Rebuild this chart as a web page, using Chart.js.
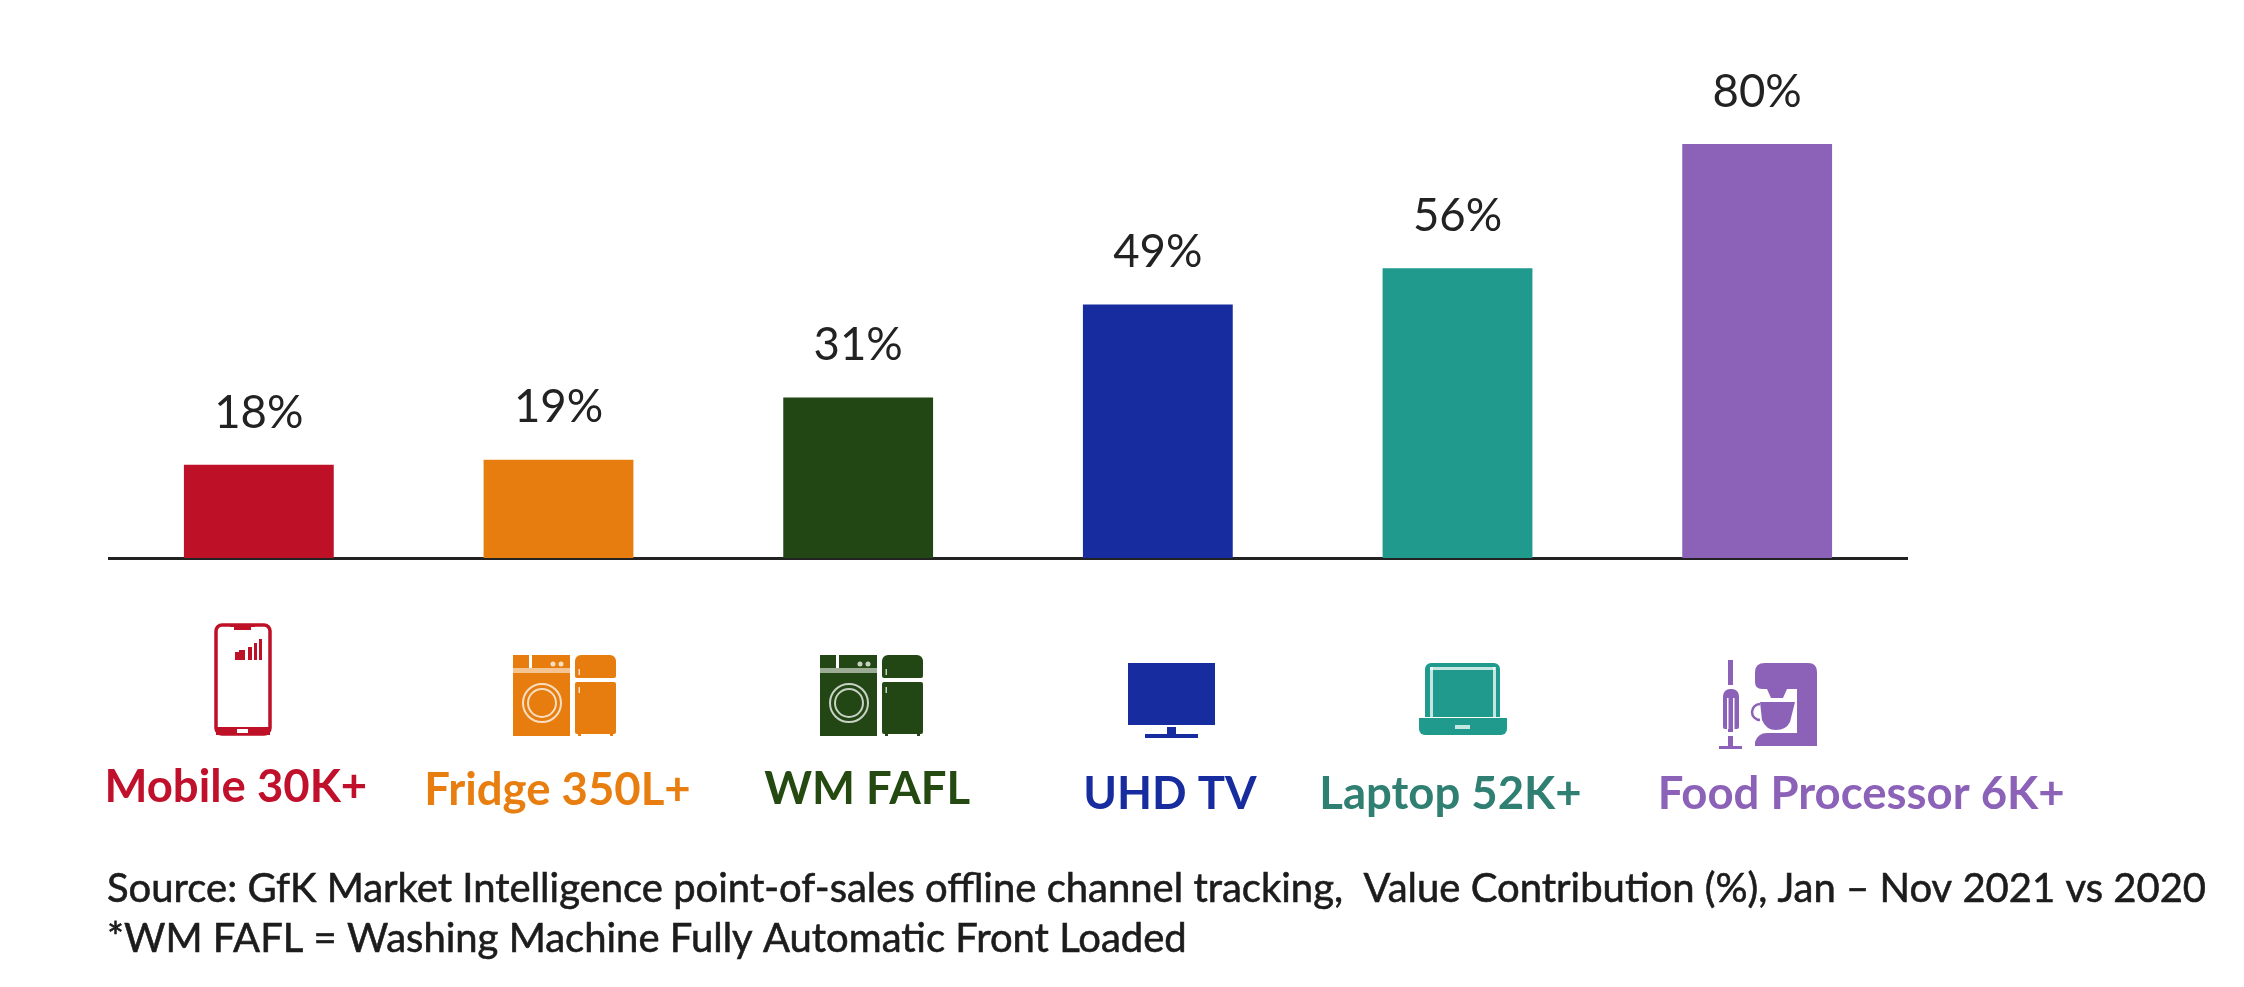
<!DOCTYPE html>
<html>
<head>
<meta charset="utf-8">
<title>Value contribution</title>
<script src="https://cdn.jsdelivr.net/npm/chart.js@4/dist/chart.umd.js"></script>
<style>
  html, body { margin: 0; padding: 0; background: #fff; }
  canvas { display: block; }
</style>
</head>
<body>
<canvas id="barChart" width="2244" height="987"></canvas>
<script>
const categories = ['Mobile 30K+', 'Fridge 350L+', 'WM FAFL', 'UHD TV', 'Laptop 52K+', 'Food Processor 6K+']
const contribution = [18, 19, 31, 49, 56, 80]
const barColors = ['#BE1128', '#E77D0F', '#234714', '#172D9F', '#1F9A8D', '#8C61B8']
const labelColors = ['#C0102C', '#E87E0F', '#244A12', '#172C9E', '#2F7F72', '#8C62B9']
const sourceLines = [
  'Source: GfK Market Intelligence point-of-sales offline channel tracking,  Value Contribution (%), Jan \u2013 Nov 2021 vs 2020',
  '*WM FAFL = Washing Machine Fully Automatic Front Loaded'
]

// label offsets from the bar centre, the picture does not centre them
const labelShift = [-23, -1, 9, 12, -7, 104]
const labelY = [787, 790, 789, 794, 794, 794]

const white = '#fff'
const pale = 'rgba(255,255,255,0.75)'

function drawPhone (ctx, c) {
  ctx.strokeStyle = c
  ctx.lineWidth = 3.5
  ctx.beginPath()
  ctx.roundRect(216, 625, 54, 109, 6)
  ctx.stroke()
  ctx.fillStyle = c
  ctx.fillRect(216, 727, 54, 8)
  ctx.fillRect(230, 624, 25, 3)
  ctx.fillRect(234, 627, 17, 3)
  ctx.fillStyle = white
  ctx.fillRect(237, 729, 11, 4)
  ctx.fillStyle = c
  ctx.fillRect(235, 652, 10, 8)
  ctx.fillRect(239, 650, 6, 2)
  ctx.fillRect(248, 647, 4, 13)
  ctx.fillRect(254, 643, 3, 17)
  ctx.fillRect(259, 639, 3, 21)
}

function drawWasherFridge (ctx, c, dx) {
  ctx.fillStyle = c
  ctx.fillRect(513 + dx, 655, 16, 13)
  ctx.fillRect(532 + dx, 655, 38, 13)
  ctx.fillRect(513 + dx, 673, 57, 63)
  ctx.globalAlpha = 0.45
  ctx.fillRect(513 + dx, 668, 57, 5)
  ctx.globalAlpha = 1
  ctx.beginPath()
  ctx.roundRect(575 + dx, 655, 41, 23, [6, 6, 2, 2])
  ctx.fill()
  ctx.beginPath()
  ctx.roundRect(575 + dx, 682, 41, 52, 2)
  ctx.fill()
  ctx.fillRect(578 + dx, 733, 3, 3)
  ctx.fillRect(610 + dx, 733, 3, 3)
  ctx.fillStyle = pale
  ctx.beginPath()
  ctx.arc(553 + dx, 664, 2.5, 0, Math.PI * 2)
  ctx.arc(561 + dx, 664, 2.5, 0, Math.PI * 2)
  ctx.fill()
  ctx.fillRect(578.5 + dx, 669, 1.5, 6)
  ctx.fillRect(578.5 + dx, 687, 1.5, 6)
  ctx.strokeStyle = pale
  ctx.lineWidth = 2
  ctx.beginPath()
  ctx.arc(542 + dx, 703, 19, 0, Math.PI * 2)
  ctx.stroke()
  ctx.beginPath()
  ctx.arc(542 + dx, 703, 14, 0, Math.PI * 2)
  ctx.stroke()
}

function drawTv (ctx, c) {
  ctx.fillStyle = c
  ctx.fillRect(1128, 663, 87, 62)
  ctx.fillRect(1167, 727, 9, 8)
  ctx.fillRect(1145, 734, 53, 4)
}

function drawLaptop (ctx, c) {
  ctx.fillStyle = c
  ctx.beginPath()
  ctx.roundRect(1425, 663, 75, 54, [6, 6, 0, 0])
  ctx.fill()
  ctx.beginPath()
  ctx.roundRect(1419, 718, 88, 17, [0, 0, 6, 6])
  ctx.fill()
  ctx.fillStyle = pale
  ctx.fillRect(1430, 667, 65, 3)
  ctx.fillRect(1430, 667, 3, 50)
  ctx.fillRect(1493, 667, 3, 50)
  ctx.fillRect(1455, 725, 15, 4)
}

function drawMixer (ctx, c) {
  ctx.fillStyle = c
  // hand whisk
  ctx.fillRect(1728, 660, 5, 25)
  ctx.beginPath()
  ctx.roundRect(1723, 689, 16, 40, [7, 7, 2, 2])
  ctx.fill()
  ctx.fillRect(1728, 729, 5, 3)
  ctx.fillStyle = white
  ctx.fillRect(1727, 698, 1.5, 31)
  ctx.fillRect(1733, 698, 1.5, 31)
  ctx.fillStyle = c
  ctx.fillRect(1728, 736, 5, 10)
  ctx.fillRect(1719, 746, 23, 3)
  // stand mixer body
  ctx.beginPath()
  ctx.moveTo(1755, 682)
  ctx.lineTo(1755, 672)
  ctx.quadraticCurveTo(1755, 663, 1765, 663)
  ctx.lineTo(1808, 663)
  ctx.quadraticCurveTo(1817, 663, 1817, 672)
  ctx.lineTo(1817, 746)
  ctx.lineTo(1755, 746)
  ctx.lineTo(1755, 742)
  ctx.quadraticCurveTo(1758, 733, 1767, 733)
  ctx.lineTo(1797, 733)
  ctx.lineTo(1797, 689)
  ctx.lineTo(1762, 689)
  ctx.quadraticCurveTo(1755, 689, 1755, 682)
  ctx.closePath()
  ctx.fill()
  // beater head
  ctx.beginPath()
  ctx.moveTo(1767, 689)
  ctx.lineTo(1787, 689)
  ctx.lineTo(1783, 698)
  ctx.lineTo(1771, 698)
  ctx.closePath()
  ctx.fill()
  // bowl with a cup handle
  ctx.beginPath()
  ctx.moveTo(1760, 702)
  ctx.lineTo(1795, 702)
  ctx.lineTo(1790, 722)
  ctx.quadraticCurveTo(1786, 730, 1776, 730)
  ctx.quadraticCurveTo(1766, 730, 1762, 720)
  ctx.closePath()
  ctx.fill()
  ctx.strokeStyle = c
  ctx.lineWidth = 2.5
  ctx.beginPath()
  ctx.arc(1760, 712, 8, Math.PI * 0.5, Math.PI * 1.5)
  ctx.stroke()
}

const iconDrawers = [
  (ctx, c) => drawPhone(ctx, c),
  (ctx, c) => drawWasherFridge(ctx, c, 0),
  (ctx, c) => drawWasherFridge(ctx, c, 307),
  (ctx, c) => drawTv(ctx, c),
  (ctx, c) => drawLaptop(ctx, c),
  (ctx, c) => drawMixer(ctx, c)
]

const valueLabels = {
  id: 'valueLabels',
  afterDatasetsDraw (chart) {
    const ctx = chart.ctx
    const bars = chart.getDatasetMeta(0).data
    ctx.save()
    ctx.font = '400 45.5px Lato'
    ctx.fillStyle = '#222'
    ctx.textAlign = 'center'
    ctx.textBaseline = 'middle'
    bars.forEach((bar, i) => {
      ctx.fillText(contribution[i] + '%', bar.x, bar.y - 52)
    })
    ctx.restore()
  }
}

const categoryRow = {
  id: 'categoryRow',
  afterDraw (chart) {
    const ctx = chart.ctx
    const x = chart.scales.x
    ctx.save()
    categories.forEach((name, i) => {
      iconDrawers[i](ctx, barColors[i])
      ctx.font = '700 45.5px Lato'
      ctx.fillStyle = labelColors[i]
      ctx.textAlign = 'center'
      ctx.textBaseline = 'middle'
      ctx.fillText(name, x.getPixelForValue(i) + labelShift[i], labelY[i])
    })
    ctx.font = '400 40px Lato'
    ctx.fillStyle = '#1c1c1c'
    ctx.strokeStyle = '#1c1c1c'
    ctx.lineWidth = 0.6
    ctx.textAlign = 'left'
    ctx.textBaseline = 'middle'
    sourceLines.forEach((line, i) => {
      ctx.fillText(line, 107, 889 + i * 50)
      ctx.strokeText(line, 107, 889 + i * 50)
    })
    ctx.restore()
  }
}

new Chart(document.getElementById('barChart').getContext('2d'), {
  type: 'bar',
  data: {
    labels: categories,
    datasets: [{
      data: contribution,
      backgroundColor: barColors,
      barPercentage: 0.5,
      categoryPercentage: 1
    }]
  },
  options: {
    animation: false,
    responsive: false,
    devicePixelRatio: 1,
    layout: {
      padding: { left: 109, right: 337, top: 40.5, bottom: 421 }
    },
    plugins: {
      legend: { display: false },
      title: { display: false },
      tooltip: { enabled: false }
    },
    scales: {
      x: {
        grid: { display: false },
        ticks: { display: false },
        border: { display: true, color: '#222', width: 3 }
      },
      y: {
        display: false,
        min: 0,
        max: 100
      }
    }
  },
  plugins: [valueLabels, categoryRow]
})
</script>
</body>
</html>
